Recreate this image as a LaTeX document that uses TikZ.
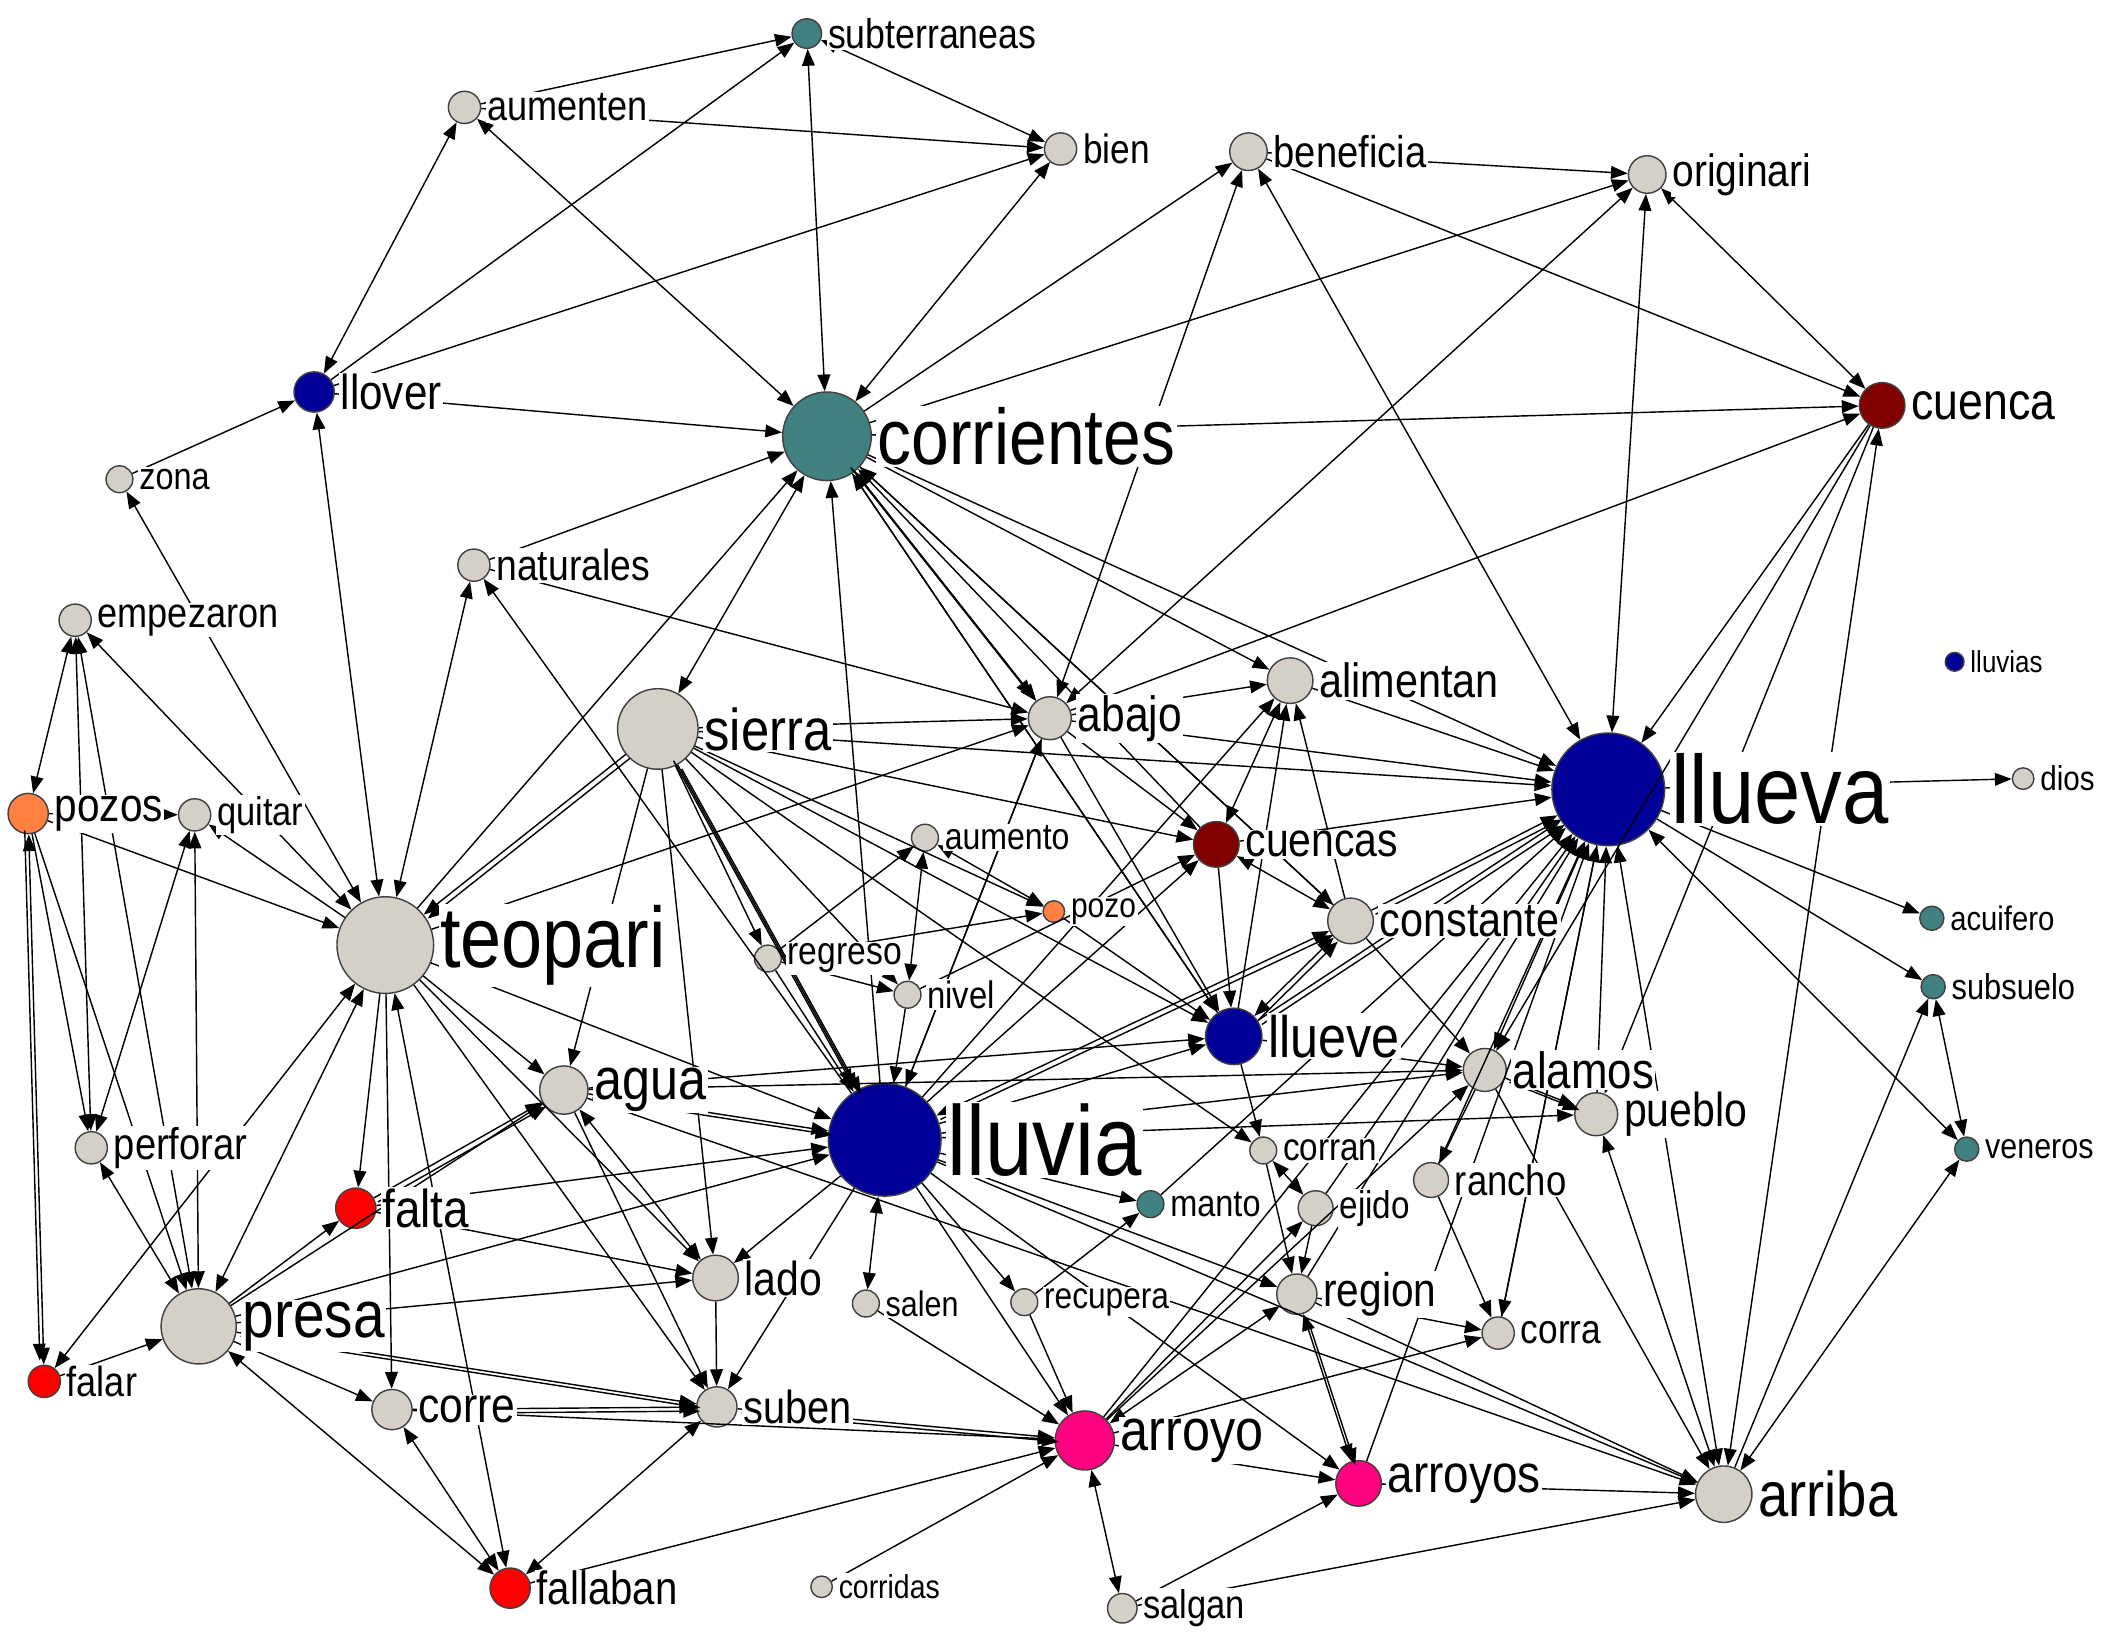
\documentclass[tikz,border=0pt]{standalone}
\usepackage{fontspec}
\setmainfont{Liberation Sans}[FakeStretch=0.86]
\usetikzlibrary{arrows.meta}

\definecolor{ngray}{HTML}{D4D0C8}
\definecolor{nblue}{HTML}{000099}
\definecolor{nteal}{HTML}{408080}
\definecolor{nred}{HTML}{800000}
\definecolor{norange}{HTML}{FF8040}
\definecolor{nbright}{HTML}{FF0000}
\definecolor{npink}{HTML}{FF0080}

% vertex: name, x, y, diameter (mm), colour
\newcommand\vtx[5]{\node[nd,fill=#5,minimum size=#4mm] (#1) at (#2,#3) {};}
% label placed right of a vertex: name, text, font size (pt)
\newcommand\vlab[3]{\node[lb,font=\fontsize{#3}{#3}\selectfont] (#1-t) at ([xshift=0.25mm]#1.east) {#2};}

\begin{document}
\begin{tikzpicture}[x=0.1mm,y=-0.1mm,
  nd/.style={circle,draw=black!75,line width=0.3pt,inner sep=0pt},
  lb/.style={anchor=west,inner sep=0.3pt,fill=white,text=black},
  tip/.tip={Triangle[length=1.25mm,width=0.95mm]},
  ed/.style={line width=0.3pt,-tip},
  bd/.style={line width=0.3pt,tip-tip}]

\fill[white] (0,0) rectangle (1568,1221);
\useasboundingbox (0,0) rectangle (1568,1221);

% vertices
\vtx{sub}{601}{25}{2.2}{nteal}
\vtx{aum}{346}{80}{2.4}{ngray}
\vtx{bien}{790}{111}{2.4}{ngray}
\vtx{ben}{930}{113}{2.8}{ngray}
\vtx{ori}{1227}{130}{2.8}{ngray}
\vtx{llo}{234}{292}{3.0}{nblue}
\vtx{zona}{89}{357}{2.0}{ngray}
\vtx{cor}{616}{325}{6.6}{nteal}
\vtx{cca}{1402}{302}{3.4}{nred}
\vtx{nat}{353}{421}{2.4}{ngray}
\vtx{emp}{56}{462}{2.4}{ngray}
\vtx{sie}{490}{543}{6.0}{ngray}
\vtx{aba}{782}{535}{3.2}{ngray}
\vtx{ali}{961}{507}{3.4}{ngray}
\vtx{llvs}{1456}{493}{1.4}{nblue}
\vtx{llva}{1198}{588}{8.4}{nblue}
\vtx{dios}{1507}{580}{1.6}{ngray}
\vtx{pzs}{21}{606}{3.0}{norange}
\vtx{qui}{145}{607}{2.4}{ngray}
\vtx{aumo}{689}{624}{2.0}{ngray}
\vtx{ccs}{906}{629}{3.4}{nred}
\vtx{pozo}{785}{679}{1.6}{norange}
\vtx{teo}{287}{704}{7.2}{ngray}
\vtx{cons}{1006}{686}{3.4}{ngray}
\vtx{reg}{572}{714}{2.0}{ngray}
\vtx{niv}{676}{741}{2.0}{ngray}
\vtx{acu}{1439}{684}{1.8}{nteal}
\vtx{subs}{1440}{735}{1.8}{nteal}
\vtx{llve}{919}{772}{4.2}{nblue}
\vtx{agua}{420}{812}{3.6}{ngray}
\vtx{ala}{1106}{797}{3.2}{ngray}
\vtx{llu}{659}{849}{8.4}{nblue}
\vtx{pue}{1189}{830}{3.2}{ngray}
\vtx{per}{68}{855}{2.4}{ngray}
\vtx{corran}{941}{857}{2.0}{ngray}
\vtx{ven}{1465}{856}{1.8}{nteal}
\vtx{man}{857}{897}{2.0}{nteal}
\vtx{fal}{265}{900}{3.0}{nbright}
\vtx{eji}{980}{900}{2.6}{ngray}
\vtx{ran}{1066}{879}{2.6}{ngray}
\vtx{lado}{533}{952}{3.4}{ngray}
\vtx{pre}{148}{988}{5.6}{ngray}
\vtx{regi}{966}{964}{3.0}{ngray}
\vtx{sal}{645}{971}{2.0}{ngray}
\vtx{rec}{763}{970}{2.0}{ngray}
\vtx{corra}{1116}{993}{2.4}{ngray}
\vtx{far}{33}{1029}{2.4}{nbright}
\vtx{corre}{292}{1050}{3.0}{ngray}
\vtx{sube}{534}{1048}{3.0}{ngray}
\vtx{arr}{808}{1073}{4.4}{npink}
\vtx{arrs}{1012}{1105}{3.4}{npink}
\vtx{arri}{1284}{1113}{4.2}{ngray}
\vtx{fll}{380}{1183}{3.0}{nbright}
\vtx{crd}{612}{1182}{1.6}{ngray}
\vtx{slg}{836}{1198}{2.2}{ngray}

% one-way ties
\foreach \a/\b in {aum/sub,llo/sub,llo/bien,aum/bien,zona/llo,llo/cor,cor/ben,ben/cca,ben/ori,
  cor/ori,cor/cca,aba/cca,cca/llva,cca/ala,cca/pue,nat/cor,llu/nat,nat/aba,teo/cor,llu/cor,
  pzs/qui,pzs/teo,pzs/per,pzs/pre,teo/qui,far/pre,pre/lado,pre/sube,pre/corre,pre/fal,pre/agua,
  pre/llu,fal/lado,teo/corre,teo/agua,sie/agua,fal/agua,agua/llu,agua/llve,agua/ala,agua/arri,
  agua/sube,teo/lado,teo/sube,teo/llu,teo/fal,sie/teo,teo/aba,sie/aba,sie/llva,sie/ccs,sie/reg,
  sie/llu,sie/pozo,sie/llve,sie/lado,sie/corran,sie/niv,aba/ali,aba/llva,aba/llve,aba/ccs,
  llu/aba,cor/cons,cor/ali,cor/llva,cor/llve,ccs/cor,cons/ali,llve/ali,llu/ali,ali/llva,llu/ccs,
  ccs/llve,ccs/llva,niv/ccs,reg/pozo,pozo/llve,reg/niv,reg/llu,reg/aumo,niv/llu,cons/cor,
  cons/llva,cons/ala,llve/llva,llve/cor,llve/corran,llve/ala,llu/llve,llu/ala,llu/pue,llu/rec,
  llu/man,llu/arr,llu/regi,llu/arri,llu/arrs,llu/lado,llu/sube,ala/pue,ala/ran,ala/arri,
  llva/dios,llva/acu,llva/subs,pue/llva,ran/corra,ran/llva,regi/corra,arr/corra,llva/corra,
  regi/llva,regi/arri,eji/regi,eji/llva,arr/eji,corran/regi,rec/man,man/llva,sal/arr,rec/arr,
  slg/arrs,slg/arri,arr/arrs,arrs/arri,fll/arr,crd/arr,sube/arr,corre/sube,corre/arr,lado/sube,
  arri/subs,fal/llu,cor/aba,aba/llu,arr/llva,arrs/llva,corra/llva,arr/ala}
  \draw[ed] (\a) -- (\b);

% reciprocal ties
\foreach \a/\b in {llo/aum,sub/bien,cor/sub,cor/bien,cor/aum,teo/llo,aba/ben,llva/ben,aba/ori,
  llva/ori,ori/cca,cca/arri,teo/zona,teo/emp,teo/nat,sie/cor,emp/pzs,emp/per,emp/pre,pzs/far,
  per/pre,qui/pre,qui/per,far/teo,pre/fll,teo/pre,teo/fll,corre/fll,sube/fll,agua/lado,ali/ccs,
  ccs/cons,aumo/niv,aumo/pozo,llu/cons,llve/cons,llva/ala,pue/arri,llva/arri,llva/ven,arri/ven,
  subs/ven,arr/regi,regi/arrs,arr/slg,llu/sal,corran/eji,cor/aba}
  \draw[bd] (\a) -- (\b);

% parallel second lines
\foreach \a/\b in {corre/sube,sube/arr,pre/sube,agua/llu,sie/llu,ala/pue,cons/llva,llve/cons,
  llu/cons,regi/arrs,sie/teo,fal/agua,llve/llva}
  \draw[ed,transform canvas={shift={(0.3mm,-0.3mm)}}] (\a) -- (\b);
\foreach \a/\b in {sie/llu,cor/aba,pzs/far}
  \draw[ed,transform canvas={shift={(-0.3mm,0.3mm)}}] (\a) -- (\b);

% labels
\vlab{sub}{subterraneas}{8.8}
\vlab{aum}{aumenten}{8.9}
\vlab{bien}{bien}{8.7}
\vlab{ben}{beneficia}{9.4}
\vlab{ori}{originari}{9.6}
\vlab{llo}{llover}{10.4}
\vlab{zona}{zona}{8}
\vlab{cor}{corrientes}{16.7}
\vlab{cca}{cuenca}{11}
\vlab{nat}{naturales}{9.2}
\vlab{emp}{empezaron}{8.9}
\vlab{sie}{sierra}{12.5}
\vlab{aba}{abajo}{10.5}
\vlab{ali}{alimentan}{10.2}
\vlab{llvs}{lluvias}{6.4}
\vlab{llva}{llueva}{20.5}
\vlab{dios}{dios}{7.3}
\vlab{pzs}{pozos}{10}
\vlab{qui}{quitar}{8.5}
\vlab{aumo}{aumento}{7.9}
\vlab{ccs}{cuencas}{10.1}
\vlab{pozo}{pozo}{7.4}
\vlab{teo}{teopari}{18.2}
\vlab{cons}{constante}{10.2}
\vlab{reg}{regreso}{8.3}
\vlab{niv}{nivel}{8.1}
\vlab{acu}{acuifero}{7.2}
\vlab{subs}{subsuelo}{7.6}
\vlab{llve}{llueve}{12.4}
\vlab{agua}{agua}{12.4}
\vlab{ala}{alamos}{10.8}
\vlab{llu}{lluvia}{21}
\vlab{pue}{pueblo}{10.1}
\vlab{per}{perforar}{9.4}
\vlab{corran}{corran}{8.2}
\vlab{ven}{veneros}{7.5}
\vlab{man}{manto}{8}
\vlab{fal}{falta}{11.3}
\vlab{eji}{ejido}{8.2}
\vlab{ran}{rancho}{9}
\vlab{lado}{lado}{10.1}
\vlab{pre}{presa}{14}
\vlab{regi}{region}{10}
\vlab{sal}{salen}{7.5}
\vlab{rec}{recupera}{7.8}
\vlab{corra}{corra}{8.7}
\vlab{far}{falar}{8.9}
\vlab{corre}{corre}{10.5}
\vlab{sube}{suben}{9.8}
\vlab{arr}{arroyo}{12.4}
\vlab{arrs}{arroyos}{11.3}
\vlab{arri}{arriba}{13.4}
\vlab{fll}{fallaban}{9.9}
\vlab{crd}{corridas}{7}
\vlab{slg}{salgan}{8.5}
\end{tikzpicture}
\end{document}
